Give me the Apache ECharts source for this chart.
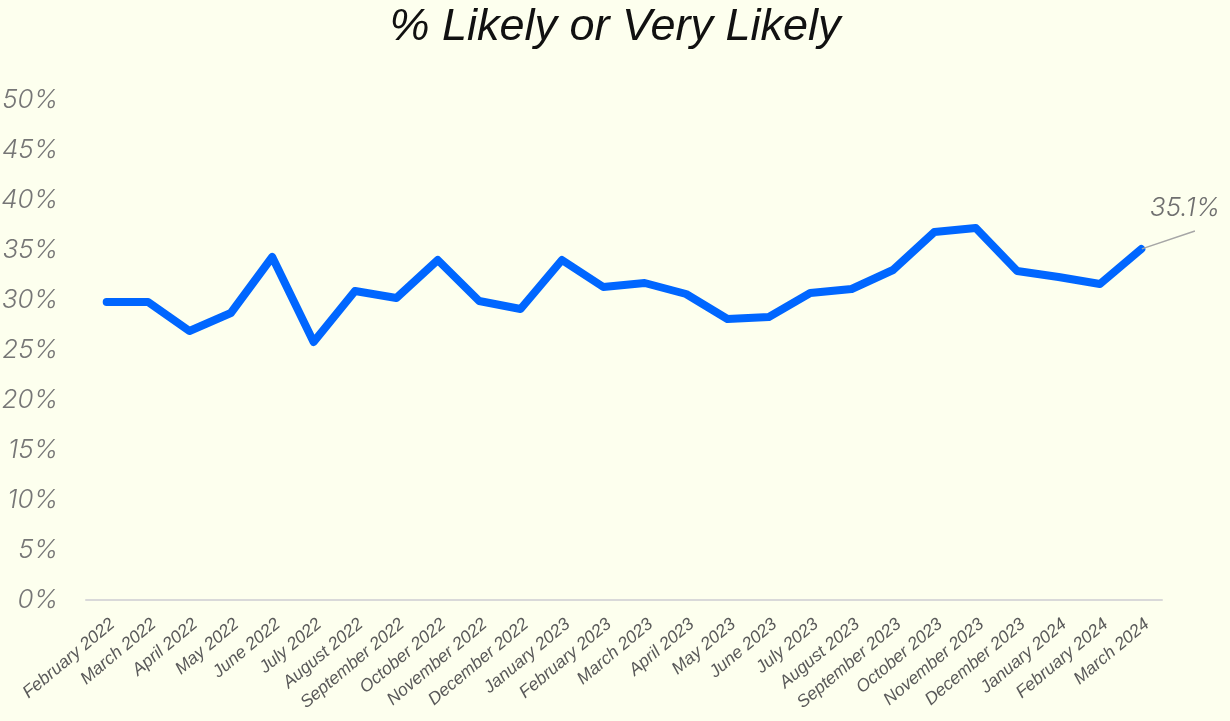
<!DOCTYPE html>
<html>
<head>
<meta charset="utf-8">
<script src="https://cdn.jsdelivr.net/npm/echarts@6/dist/echarts.min.js"></script>
<style>
  html, body { margin: 0; padding: 0; background: #fdffee; }
  #chart { width: 1230px; height: 721px; }
</style>
</head>
<body>
<div id="chart"></div>
<script>
// Monthly share of respondents answering "Likely" or "Very Likely"
const months = [
  'February 2022', 'March 2022', 'April 2022', 'May 2022', 'June 2022', 'July 2022',
  'August 2022', 'September 2022', 'October 2022', 'November 2022', 'December 2022',
  'January 2023', 'February 2023', 'March 2023', 'April 2023', 'May 2023', 'June 2023',
  'July 2023', 'August 2023', 'September 2023', 'October 2023', 'November 2023',
  'December 2023', 'January 2024', 'February 2024', 'March 2024'
];
const likelyPct = [
  29.8, 29.8, 26.9, 28.7, 34.3, 25.8, 30.9, 30.2, 34.0, 29.9, 29.1,
  34.0, 31.3, 31.7, 30.6, 28.1, 28.3, 30.7, 31.1, 33.0, 36.8, 37.2,
  32.9, 32.3, 31.6, 35.1
];
const yTicks = { min: 0, max: 50, step: 5 };

// Only the latest month carries a value callout. A blank spacer line above the
// value makes the transparent label box tall, so the leader line meets it from below.
const seriesData = likelyPct.map((v, i) => i === likelyPct.length - 1
  ? {
      value: v,
      label: {
        show: true,
        position: 'right',
        formatter: p => '{gap| }\n{v|' + p.value.toFixed(1) + '%}',
        backgroundColor: 'rgba(0,0,0,0)',
        padding: [0, 20, 7, 0],
        rich: {
          gap: { height: 50, lineHeight: 50, fontSize: 10 },
          v: {
            fontFamily: 'Inter',
            fontStyle: 'italic',
            fontWeight: 300,
            fontSize: 26,
            lineHeight: 31,
            color: '#6f6f6f'
          }
        }
      },
      labelLine: { show: true, lineStyle: { color: '#a6a6a6', width: 1.5 } }
    }
  : v);

const chart = echarts.init(document.getElementById('chart'), null, { renderer: 'canvas' });
chart.setOption({
  backgroundColor: '#fdffee',
  animation: false,
  title: {
    text: '% Likely or Very Likely',
    left: 'center',
    top: 0,
    textStyle: {
      fontFamily: 'Liberation Sans',
      fontStyle: 'italic',
      fontWeight: 'normal',
      fontSize: 45,
      color: '#111111'
    }
  },
  grid: {
    left: 86, right: 68, top: 100, bottom: 121,
    containLabel: false,
    outerBoundsMode: 'none'
  },
  xAxis: {
    type: 'category',
    data: months,
    boundaryGap: true,
    axisLine: { show: true, lineStyle: { color: '#d9d9d9', width: 2 } },
    axisTick: { show: false },
    axisLabel: {
      interval: 0,
      rotate: 40,
      margin: 15,
      verticalAlign: 'top',
      fontFamily: 'Liberation Sans',
      fontStyle: 'italic',
      fontSize: 17.5,
      color: '#595959'
    }
  },
  yAxis: {
    type: 'value',
    min: yTicks.min,
    max: yTicks.max,
    interval: yTicks.step,
    splitLine: { show: false },
    axisLine: { show: false },
    axisTick: { show: false },
    axisLabel: {
      formatter: v => v + '%',
      margin: 28,
      fontFamily: 'Inter',
      fontStyle: 'italic',
      fontWeight: 300,
      fontSize: 26,
      color: '#767676'
    }
  },
  series: [{
    type: 'line',
    data: seriesData,
    symbol: 'circle',
    symbolSize: 1,
    showSymbol: true,
    itemStyle: { color: '#0066ff' },
    lineStyle: { color: '#0066ff', width: 8, cap: 'round', join: 'round' },
    labelLayout: { dx: 3, dy: -62 }
  }]
});
</script>
</body>
</html>
